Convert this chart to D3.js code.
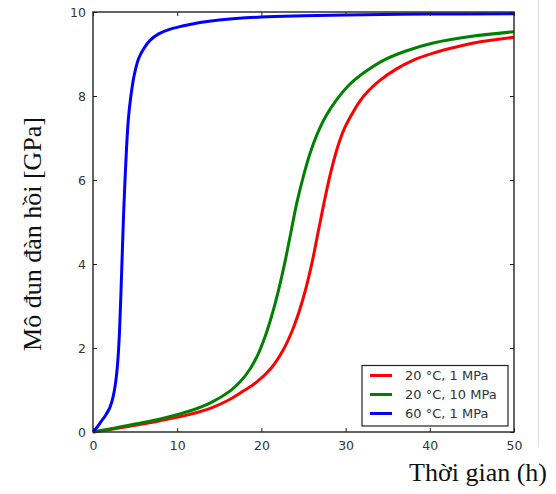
<!DOCTYPE html>
<html>
<head>
<meta charset="utf-8">
<script src="https://cdn.jsdelivr.net/npm/d3@7"></script>
<style>
    body { margin: 0; background: #fff; }
    .tick-label { font-family: "DejaVu Sans", sans-serif; font-size: 12.5px; fill: #333; }
    .legend-label { font-family: "DejaVu Sans", sans-serif; font-size: 13px; fill: #333; }
    .axis-title { font-family: "Liberation Serif", "Times New Roman", serif; font-size: 26px; fill: #111; }
</style>
</head>
<body>
<div id="chart-container"></div>
<script>
// time in hours, modulus in GPa
var redTime   = [0, 2, 5, 8, 11.5, 14, 16, 17.5, 19.5, 21.2, 22.5, 23.6, 24.5, 25.3, 26.0, 26.7, 27.4, 28.2, 29.0, 29.8, 30.7, 31.6, 32.6, 34, 36, 38, 40.4, 43, 46, 50];
var redValue  = [0, 0.06, 0.16, 0.27, 0.42, 0.57, 0.75, 0.93, 1.2, 1.53, 1.92, 2.38, 2.88, 3.43, 4.02, 4.72, 5.42, 6.15, 6.75, 7.2, 7.55, 7.85, 8.1, 8.36, 8.64, 8.85, 9.02, 9.16, 9.29, 9.4];

var greenTime  = [0, 2, 5, 8, 11.5, 14, 16.3, 17.5, 18.65, 19.6, 20.4, 21.2, 22, 22.8, 23.5, 24.2, 25, 25.8, 26.6, 27.6, 28.9, 30.5, 32.5, 34.5, 37, 40.4, 45, 50];
var greenValue = [0, 0.07, 0.19, 0.31, 0.5, 0.7, 0.98, 1.2, 1.5, 1.85, 2.25, 2.75, 3.35, 4.05, 4.75, 5.45, 6.1, 6.65, 7.08, 7.5, 7.9, 8.28, 8.6, 8.85, 9.06, 9.26, 9.42, 9.53];

var blueTime  = [0, 0.5, 1.0, 1.5, 2.0, 2.4, 2.7, 2.95, 3.15, 3.3, 3.45, 3.6, 3.78, 3.98, 4.2, 4.5, 4.9, 5.4, 6.0, 6.8, 7.8, 9, 10.5, 12.7, 15, 20, 25, 30, 40, 50];
var blueValue = [0, 0.12, 0.26, 0.4, 0.58, 0.85, 1.2, 1.7, 2.4, 3.2, 4.1, 5.0, 5.9, 6.75, 7.45, 8.0, 8.5, 8.88, 9.12, 9.33, 9.48, 9.58, 9.66, 9.75, 9.81, 9.88, 9.91, 9.93, 9.95, 9.96];

var seriesNames  = ["20 °C, 1 MPa", "20 °C, 10 MPa", "60 °C, 1 MPa"];
var seriesColors = ["#ff0000", "#008000", "#0000ff"];

var xTicks = [0, 10, 20, 30, 40, 50];
var yTicks = [0, 2, 4, 6, 8, 10];

var xTitle = "Thời gian (h)";
var yTitle = "Mô đun đàn hồi [GPa]";

function zipSeries(t, v) {
    return t.map(function(d, i) { return {t: d, v: v[i]}; });
}

var series = [
    zipSeries(redTime, redValue),
    zipSeries(greenTime, greenValue),
    zipSeries(blueTime, blueValue)
];

var margin = { top: 12, right: 42, bottom: 62, left: 93 };
var width = 556 - margin.left - margin.right;
var height = 494 - margin.top - margin.bottom;

var svg = d3.select("#chart-container")
    .append("svg")
    .attr("width", 556)
    .attr("height", 494);

// thin grey page edge on the right
svg.append("line")
    .attr("x1", 538.5).attr("x2", 538.5)
    .attr("y1", 0).attr("y2", 447)
    .attr("stroke", "#dcdcdc")
    .attr("stroke-width", 1);

var g = svg.append("g")
    .attr("transform", "translate(" + margin.left + "," + margin.top + ")");

var x = d3.scaleLinear().domain([0, 50]).range([0, width]);
var y = d3.scaleLinear().domain([0, 10]).range([height, 0]);

var line = d3.line()
    .x(function(d) { return x(d.t); })
    .y(function(d) { return y(d.v); })
    .curve(d3.curveCatmullRom.alpha(0.5));

g.selectAll(".series")
    .data(series)
    .enter()
    .append("path")
    .attr("class", "series")
    .attr("d", line)
    .attr("fill", "none")
    .attr("stroke", function(d, i) { return seriesColors[i]; })
    .attr("stroke-width", 3)
    .attr("stroke-linejoin", "round");

// inward ticks on all four sides, matplotlib style
var tickLen = 4;
var bottomAxis = d3.axisBottom(x).tickValues(xTicks).tickSizeInner(-tickLen).tickSizeOuter(0).tickPadding(9);
var topAxis = d3.axisTop(x).tickValues(xTicks).tickSizeInner(-tickLen).tickSizeOuter(0).tickFormat("");
var leftAxis = d3.axisLeft(y).tickValues(yTicks).tickSizeInner(-tickLen).tickSizeOuter(0).tickPadding(7);
var rightAxis = d3.axisRight(y).tickValues(yTicks).tickSizeInner(-tickLen).tickSizeOuter(0).tickFormat("");

g.append("g").attr("transform", "translate(0," + height + ")").call(bottomAxis);
g.append("g").call(topAxis);
g.append("g").call(leftAxis);
g.append("g").attr("transform", "translate(" + width + ",0)").call(rightAxis);

g.selectAll(".domain").remove();
g.selectAll(".tick line").attr("stroke", "#222").attr("stroke-width", 1);
g.selectAll(".tick text").attr("class", "tick-label").attr("fill", null);

g.append("rect")
    .attr("x", 0).attr("y", 0)
    .attr("width", width).attr("height", height)
    .attr("fill", "none")
    .attr("stroke", "#222")
    .attr("stroke-width", 1.4);

// legend
var legend = g.append("g")
    .attr("transform", "translate(" + (362 - margin.left) + "," + (365.5 - margin.top) + ")");

legend.append("rect")
    .attr("width", 146)
    .attr("height", 60.5)
    .attr("fill", "#fff")
    .attr("stroke", "#222")
    .attr("stroke-width", 1.2);

var legendRows = legend.selectAll(".legend-row")
    .data(seriesNames)
    .enter()
    .append("g")
    .attr("class", "legend-row")
    .attr("transform", function(d, i) { return "translate(0," + (10 + i * 19) + ")"; });

legendRows.append("line")
    .attr("x1", 8).attr("x2", 30)
    .attr("stroke", function(d, i) { return seriesColors[i]; })
    .attr("stroke-width", 3);

legendRows.append("text")
    .attr("class", "legend-label")
    .attr("x", 43)
    .attr("dy", "0.36em")
    .text(function(d) { return d; });

// axis titles
svg.append("text")
    .attr("class", "axis-title")
    .attr("text-anchor", "end")
    .attr("x", 547)
    .attr("y", 481)
    .text(xTitle);

svg.append("text")
    .attr("class", "axis-title")
    .attr("text-anchor", "middle")
    .attr("transform", "translate(41,234) rotate(-90)")
    .text(yTitle);
</script>
</body>
</html>
